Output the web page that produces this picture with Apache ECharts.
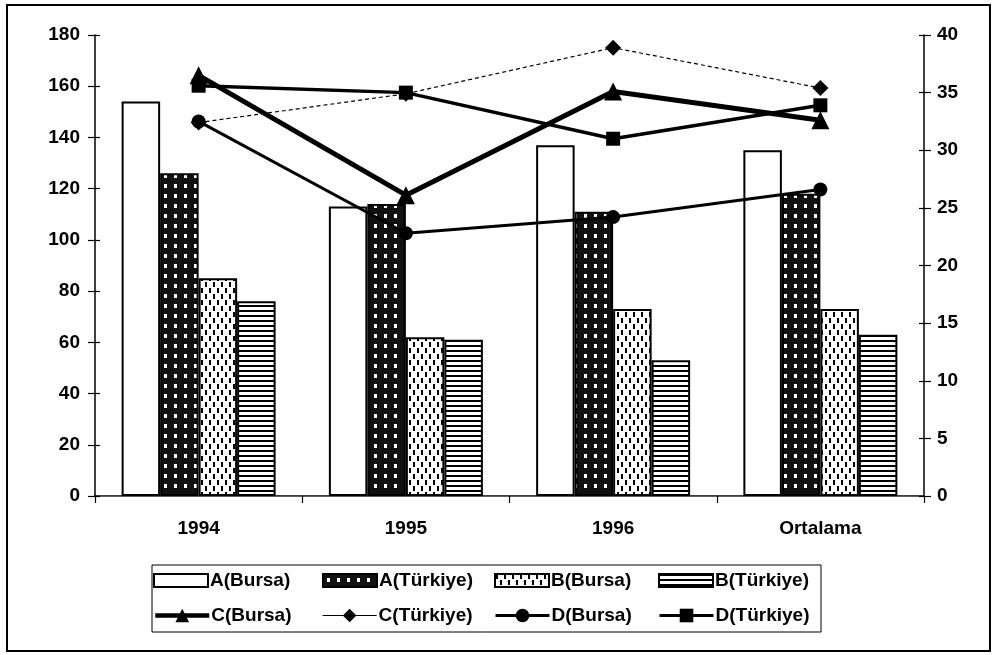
<!DOCTYPE html>
<html><head><meta charset="utf-8">
<script src="https://cdn.jsdelivr.net/npm/echarts@6/dist/echarts.min.js"></script>
<style>html,body{margin:0;padding:0;background:#fff}#c{width:996px;height:655px}</style>
</head><body><div id="c"></div>
<script>
// ---- data ----
const categories = ['1994', '1995', '1996', 'Ortalama'];
const aBursa   = [154, 113, 137, 135];
const aTurkiye = [126, 114, 111, 118];
const bBursa   = [85, 62, 73, 73];
const bTurkiye = [76, 61, 53, 63];
const cBursa   = [36.5, 26.1, 35.1, 32.6];
const cTurkiye = [32.4, 34.9, 38.9, 35.4];
const dBursa   = [32.5, 22.8, 24.2, 26.6];
const dTurkiye = [35.6, 35.0, 31.0, 33.9];
const leftTicks  = {min: 0, max: 180, interval: 20};
const rightTicks = {min: 0, max: 40, interval: 5};

// ---- patterns ----
function pattern(w, h, bg, draw) {
  const c = document.createElement('canvas');
  c.width = w; c.height = h;
  const g = c.getContext('2d');
  g.fillStyle = bg; g.fillRect(0, 0, w, h);
  draw(g);
  return {image: c, repeat: 'repeat'};
}
const patDark = pattern(10, 10, '#111', g => { g.fillStyle = '#fff'; g.fillRect(4, 4, 3, 4); });
const patDash = pattern(8, 12, '#fff', g => { g.fillStyle = '#000'; g.fillRect(1, 0, 2, 5); g.fillRect(5, 6, 2, 5); });
const patLines = pattern(6, 5, '#fff', g => { g.fillStyle = '#000'; g.fillRect(0, 0, 6, 2); });

const FONT = 'Liberation Sans, Arial, sans-serif';
const txt = {color: '#000', fontSize: 19, fontWeight: 'bold', fontFamily: FONT};

const chart = echarts.init(document.getElementById('c'), null, {renderer: 'canvas'});

function barSeries(name, data, color) {
  return {name, type: 'bar', data, barWidth: 38.5, barGap: '0%', yAxisIndex: 0,
    itemStyle: {color, borderColor: '#000', borderWidth: 2}, z: 2};
}
function lineSeries(name, data, symbol, size, width, type) {
  return {name, type: 'line', data, yAxisIndex: 1, symbol, symbolSize: size,
    lineStyle: {color: '#000', width, type: type || 'solid'},
    itemStyle: {color: '#000'}, z: 5};
}

const names = ['A(Bursa)', 'A(Türkiye)', 'B(Bursa)', 'B(Türkiye)', 'C(Bursa)', 'C(Türkiye)', 'D(Bursa)', 'D(Türkiye)'];
const legPos = [[153, 571], [322, 571], [494, 571], [658, 571], [153, 606], [322, 606], [494, 606], [658, 606]];
const legLineW = [0, 0, 0, 0, 4.5, 1.2, 3, 3];

const yBase = (pos, t, show, margin) => ({
  type: 'value', position: pos, min: t.min, max: t.max, interval: t.interval,
  axisLine: {show: show, lineStyle: {color: '#000', width: 1.5}},
  axisTick: {show: true, inside: !show, length: show ? 7 : 5, lineStyle: {color: '#000', width: 1.2}},
  axisLabel: {show: show, ...txt, margin: margin || 7},
  splitLine: {show: false}
});

chart.setOption({
  backgroundColor: '#fff',
  animation: false,
  grid: {left: 95, right: 72, top: 35, bottom: 159},
  legend: names.map((n, i) => {
    const isBar = i < 4;
    const l = {
      data: [n], left: legPos[i][0], top: legPos[i][1], padding: 0,
      itemWidth: 54, itemHeight: isBar ? 13 : 17, textStyle: {...txt, padding: [0, 0, 0, -3]}
    };
    if (isBar) l.icon = 'rect';
    else l.lineStyle = {width: legLineW[i], type: 'solid'};
    return l;
  }),
  xAxis: [
    {type: 'category', data: categories, position: 'bottom',
     axisLine: {lineStyle: {color: '#000', width: 1.5}},
     axisTick: {show: true, length: 7, lineStyle: {color: '#000', width: 1.2}},
     axisLabel: {...txt, margin: 23}},
    {type: 'category', data: categories, position: 'top',
     axisLine: {lineStyle: {color: '#666', width: 1, type: 'dotted'}},
     axisTick: {show: false}, axisLabel: {show: false}}
  ],
  yAxis: [
    yBase('left', leftTicks, true, 15),
    yBase('right', rightTicks, true, 13),
    yBase('left', leftTicks, false),
    yBase('right', rightTicks, false)
  ],
  series: [
    barSeries('A(Bursa)', aBursa, '#fff'),
    barSeries('A(Türkiye)', aTurkiye, patDark),
    barSeries('B(Bursa)', bBursa, patDash),
    barSeries('B(Türkiye)', bTurkiye, patLines),
    lineSeries('C(Bursa)', cBursa, 'triangle', 18, 5),
    lineSeries('C(Türkiye)', cTurkiye, 'diamond', 16, 1.2, [4, 3]),
    lineSeries('D(Bursa)', dBursa, 'circle', 14, 3),
    lineSeries('D(Türkiye)', dTurkiye, 'rect', 14, 3.5)
  ],
  graphic: [
    {type: 'rect', silent: true, z: -10, shape: {x: 7, y: 5, width: 983, height: 646},
     style: {fill: 'none', stroke: '#000', lineWidth: 2}},
    {type: 'rect', silent: true, z: -10, shape: {x: 152, y: 565, width: 669, height: 67},
     style: {fill: 'none', stroke: '#000', lineWidth: 1}}
  ]
});
</script></body></html>
